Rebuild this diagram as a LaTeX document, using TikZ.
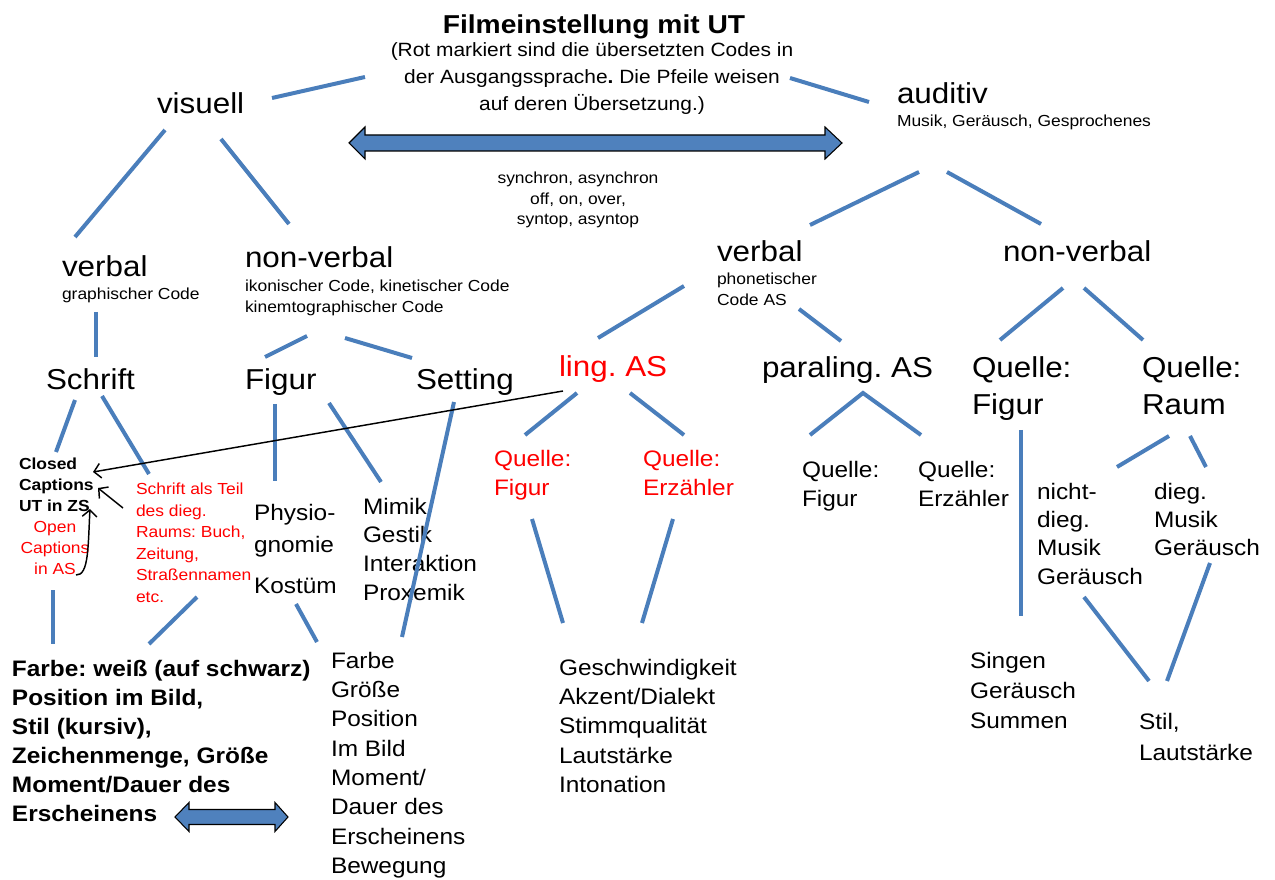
\documentclass[tikz,border=0pt]{standalone}
\usepackage{fontspec}
\setmainfont{Liberation Sans}[FakeStretch=1.09]
\usetikzlibrary{arrows.meta}
\definecolor{lineblue}{RGB}{74,126,187}
\definecolor{arrowblue}{RGB}{79,129,189}
\newcommand\myfs[2]{\fontsize{#1}{#2}\selectfont}
\frenchspacing
\tikzset{
 txt/.style={inner sep=0pt, outer sep=0pt, anchor=north west, align=left},
 bigt/.style={txt, font=\myfs{21.6pt}{27.75pt}},
 medt/.style={txt, font=\myfs{16.8pt}{22pt}},
 smt/.style={txt, font=\myfs{12pt}{15.5pt}},
 redt/.style={text=red},
 conn/.style={draw=lineblue, line width=3pt},
 ptr/.style={draw=black, line width=1.1pt, -{Straight Barb[length=5pt,width=11pt]}},
 dblarrow/.style={draw=black, line width=0.8pt, fill=arrowblue, line join=miter},
}
\begin{document}
\begin{tikzpicture}[x=0.75pt,y=-0.75pt]
\path[use as bounding box] (0,0) rectangle (1275,880);

% ---------- texts ----------
\node[txt, anchor=north, align=center, font=\bfseries\myfs{19.4pt}{24pt}] (title) at (594,15) {Filmeinstellung mit UT};
\node[txt, anchor=north, align=center, font=\myfs{14.4pt}{20.25pt}] (subtitle) at (592,43) {(Rot markiert sind die übersetzten Codes in\\der Ausgangssprache\textbf{.} Die Pfeile weisen\\auf deren Übersetzung.)};

\node[bigt] (visuell) at (157,93) {visuell};
\node[bigt] (auditiv) at (897,83) {auditiv};
\node[smt] (auditivsub) at (897,115) {Musik, Geräusch, Gesprochenes};
\node[smt, anchor=north, align=center] (sync) at (578,172) {synchron, asynchron\\off, on, over,\\syntop, asyntop};

\node[bigt] (verbalL) at (62,256) {verbal};
\node[smt] (verbalLsub) at (62,288) {graphischer Code};
\node[bigt] (nonverbalL) at (245,247) {non-verbal};
\node[smt, font=\myfs{12pt}{15.75pt}] (nonverbalLsub) at (245,280) {ikonischer Code, kinetischer Code\\kinemtographischer Code};

\node[bigt] (verbalR) at (717,241) {verbal};
\node[smt] (verbalRsub) at (717,273) {phonetischer\\Code AS};
\node[bigt] (nonverbalR) at (1003,241) {non-verbal};

\node[bigt] (schrift) at (46,369) {Schrift};
\node[bigt] (figur) at (245,369) {Figur};
\node[bigt] (setting) at (416,369) {Setting};
\node[bigt, redt] (lingAS) at (559,356) {ling. AS};
\node[bigt] (paraAS) at (762,357) {paraling. AS};
\node[bigt] (qfigurBig) at (972,357) {Quelle:\\Figur};
\node[bigt] (qraum) at (1142,357) {Quelle:\\Raum};

\node[medt, redt, font=\myfs{16.8pt}{21.75pt}] (rqfigur) at (494,450) {Quelle:\\Figur};
\node[medt, redt, font=\myfs{16.8pt}{21.75pt}] (rqerz) at (643,450) {Quelle:\\Erzähler};
\node[medt, font=\myfs{16.8pt}{21.75pt}] (qfigur) at (802,461) {Quelle:\\Figur};
\node[medt, font=\myfs{16.8pt}{21.75pt}] (qerz) at (918,461) {Quelle:\\Erzähler};

\node[txt, font=\bfseries\myfs{12pt}{15.75pt}] (closed) at (19,458) {Closed\\Captions\\UT in ZS};
\node[txt, anchor=north, align=center, redt, font=\myfs{12pt}{15.75pt}] (open) at (55,521) {Open\\Captions\\in AS};
\node[txt, redt, font=\myfs{12pt}{16.2pt}] (schriftteil) at (136,483) {Schrift als Teil\\des dieg.\\Raums: Buch,\\Zeitung,\\Straßennamen\\etc.};
\node[medt, font=\myfs{16.8pt}{24pt}] (physio) at (254,504) {Physio-\\gnomie\\[6.75pt]Kostüm};
\node[medt, font=\myfs{16.8pt}{21.5pt}] (mimik) at (363,498) {Mimik\\Gestik\\Interaktion\\Proxemik};
\node[medt, font=\myfs{16.8pt}{21.25pt}] (nichtdieg) at (1037,483) {nicht-\\dieg.\\Musik\\Geräusch};
\node[medt, font=\myfs{16.8pt}{21.25pt}] (dieg) at (1154,483) {dieg.\\Musik\\Geräusch};

\node[txt, font=\bfseries\myfs{16.8pt}{21.75pt}] (boldlist) at (12,660) {Farbe: weiß (auf schwarz)\\Position im Bild,\\Stil (kursiv),\\Zeichenmenge, Größe\\Moment/Dauer des\\Erscheinens};
\node[medt] (farbelist) at (331,652) {Farbe\\Größe\\Position\\Im Bild\\Moment/\\Dauer des\\Erscheinens\\Bewegung};
\node[medt] (geschw) at (559,659) {Geschwindigkeit\\Akzent/Dialekt\\Stimmqualität\\Lautstärke\\Intonation};
\node[medt, font=\myfs{16.8pt}{22.5pt}] (singen) at (970,652) {Singen\\Geräusch\\Summen};
\node[medt, font=\myfs{16.8pt}{23.75pt}] (stil) at (1139,713) {Stil,\\Lautstärke};

% ---------- connector end points ----------
\coordinate (c1a) at (272,98);  \coordinate (c1b) at (365,77);
\coordinate (c2a) at (790,78);  \coordinate (c2b) at (869,102);
\coordinate (c3a) at (165,130); \coordinate (c3b) at (75,237);
\coordinate (c4a) at (221,139); \coordinate (c4b) at (289,224);
\coordinate (c5a) at (919,172); \coordinate (c5b) at (810,225);
\coordinate (c6a) at (947,172); \coordinate (c6b) at (1041,224);
\coordinate (c7a) at (96,312);  \coordinate (c7b) at (96,357);
\coordinate (c8a) at (307,336); \coordinate (c8b) at (265,357);
\coordinate (c9a) at (345,338); \coordinate (c9b) at (412,358);
\coordinate (c10a) at (684,286); \coordinate (c10b) at (598,338);
\coordinate (c11a) at (799,309); \coordinate (c11b) at (841,341);
\coordinate (c12a) at (1063,288); \coordinate (c12b) at (1000,340);
\coordinate (c13a) at (1084,288); \coordinate (c13b) at (1143,340);
\coordinate (c14a) at (75,400);  \coordinate (c14b) at (56,452);
\coordinate (c15a) at (102,396); \coordinate (c15b) at (149,474);
\coordinate (c16a) at (275,404); \coordinate (c16b) at (275,481);
\coordinate (c17a) at (329,403); \coordinate (c17b) at (381,482);
\coordinate (c18a) at (454,402); \coordinate (c18b) at (402,637);
\coordinate (c19a) at (577,393); \coordinate (c19b) at (525,435);
\coordinate (c20a) at (630,393); \coordinate (c20b) at (684,435);
\coordinate (c21a) at (863,393); \coordinate (c21b) at (810,435);
\coordinate (c21c) at (921,435);
\coordinate (c22a) at (1021,430); \coordinate (c22b) at (1021,616);
\coordinate (c23a) at (1169,436); \coordinate (c23b) at (1117,467);
\coordinate (c24a) at (1190,436); \coordinate (c24b) at (1206,467);
\coordinate (c25a) at (1084,597); \coordinate (c25b) at (1149,681);
\coordinate (c26a) at (1210,563); \coordinate (c26b) at (1167,681);
\coordinate (c27a) at (532,519); \coordinate (c27b) at (563,623);
\coordinate (c28a) at (673,519); \coordinate (c28b) at (642,623);
\coordinate (c29a) at (296,604); \coordinate (c29b) at (317,642);
\coordinate (c30a) at (197,597); \coordinate (c30b) at (149,644);
\coordinate (c31a) at (53,590);  \coordinate (c31b) at (53,644);

\foreach \n in {1,...,20,22,23,24,25,26,27,28,29,30,31}{
  \draw[conn] (c\n a) -- (c\n b);
}
\draw[conn] (c21b) -- (c21a) -- (c21c);

% ---------- black pointer arrows ----------
\coordinate (p1s) at (563,391); \coordinate (p1e) at (93,472);
\coordinate (p2s) at (123,508); \coordinate (p2e) at (98,488);
\coordinate (p3s) at (76,575);  \coordinate (p3e) at (90,509);
\draw[ptr] (p1s) -- (p1e);
\draw[ptr] (p2s) -- (p2e);
\draw[ptr] (p3s) .. controls (89,576) and (88,545) .. (p3e);

% ---------- blue double arrows ----------
\draw[dblarrow] (349,143) -- (365,127) -- (365,135) -- (825,135) -- (825,127) -- (842,143)
  -- (825,159) -- (825,151) -- (365,151) -- (365,159) -- cycle;
\draw[dblarrow] (175,817) -- (189,802.5) -- (189,809.5) -- (275,809.5) -- (275,802.5) -- (288,817)
  -- (275,831.5) -- (275,824.5) -- (189,824.5) -- (189,831.5) -- cycle;
\end{tikzpicture}
\end{document}
